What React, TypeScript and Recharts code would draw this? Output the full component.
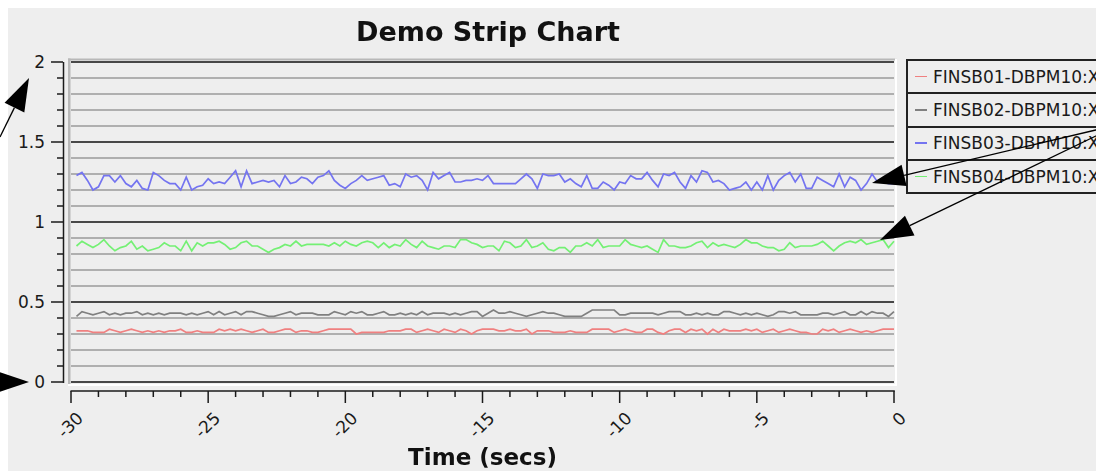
import React from "react";
import { LineChart, Line, XAxis, YAxis, ReferenceLine, Legend } from "recharts";

// one sample every 0.2 s, the newest sample at t = 0
const sampleTimes = Array.from({ length: 150 }, (_, i) => Math.round((-29.8 + 0.2 * i) * 10) / 10);

const seriesNames = ["FINSB01-DBPM10:X", "FINSB02-DBPM10:X", "FINSB03-DBPM10:X", "FINSB04-DBPM10:X"];
const seriesColors = ["#f08080", "#808080", "#7474f0", "#74f074"];

const finsb01 = [
  0.32, 0.32, 0.32, 0.31, 0.31, 0.31, 0.33, 0.32, 0.31, 0.32, 0.33, 0.32, 0.31, 0.32, 0.31, 0.32, 0.31, 0.32, 0.32, 0.33,
  0.31, 0.31, 0.32, 0.31, 0.31, 0.31, 0.33, 0.32, 0.33, 0.32, 0.33, 0.32, 0.31, 0.32, 0.33, 0.31, 0.31,
  0.32, 0.33, 0.33, 0.31, 0.32, 0.32, 0.31, 0.31, 0.32, 0.33, 0.33, 0.33, 0.33, 0.33, 0.3, 0.31, 0.31, 0.31, 0.31, 0.31,
  0.32, 0.32, 0.32, 0.33, 0.33, 0.31, 0.32, 0.33, 0.32, 0.31, 0.33, 0.32, 0.31, 0.33, 0.32, 0.3, 0.32,
  0.33, 0.33, 0.33, 0.32, 0.32, 0.33, 0.32, 0.32, 0.33, 0.3, 0.32, 0.32, 0.32, 0.31, 0.31, 0.31, 0.32, 0.31, 0.31, 0.31,
  0.33, 0.33, 0.33, 0.33, 0.31, 0.32, 0.33, 0.32, 0.31, 0.31, 0.33, 0.33, 0.31, 0.3, 0.32, 0.33, 0.33,
  0.31, 0.33, 0.32, 0.33, 0.3, 0.33, 0.31, 0.33, 0.32, 0.32, 0.32, 0.33, 0.32, 0.33, 0.31, 0.32, 0.33, 0.31, 0.32, 0.33,
  0.32, 0.31, 0.31, 0.3, 0.3, 0.33, 0.32, 0.33, 0.31, 0.32, 0.33, 0.32, 0.31, 0.32, 0.31, 0.32, 0.33, 0.33, 0.33,
];

const finsb02 = [
  0.41, 0.44, 0.43, 0.42, 0.43, 0.44, 0.42, 0.43, 0.42, 0.43, 0.43, 0.44, 0.42, 0.43, 0.42, 0.43, 0.42, 0.43, 0.43, 0.43,
  0.42, 0.43, 0.42, 0.43, 0.44, 0.42, 0.44, 0.42, 0.43, 0.44, 0.42, 0.44, 0.44, 0.43, 0.42, 0.41, 0.41,
  0.42, 0.43, 0.44, 0.42, 0.43, 0.43, 0.43, 0.42, 0.42, 0.42, 0.44, 0.43, 0.42, 0.44, 0.43, 0.44, 0.42, 0.42, 0.43, 0.44,
  0.42, 0.42, 0.43, 0.42, 0.43, 0.42, 0.44, 0.42, 0.43, 0.43, 0.43, 0.42, 0.43, 0.42, 0.43, 0.44, 0.44,
  0.41, 0.43, 0.45, 0.43, 0.43, 0.44, 0.43, 0.42, 0.41, 0.42, 0.43, 0.44, 0.43, 0.43, 0.42, 0.41, 0.41, 0.41, 0.41, 0.43,
  0.45, 0.45, 0.45, 0.45, 0.45, 0.42, 0.42, 0.43, 0.43, 0.43, 0.43, 0.43, 0.42, 0.43, 0.44, 0.44, 0.44,
  0.42, 0.42, 0.43, 0.42, 0.43, 0.42, 0.42, 0.44, 0.44, 0.43, 0.42, 0.43, 0.42, 0.43, 0.42, 0.41, 0.42, 0.44, 0.44, 0.43,
  0.44, 0.42, 0.42, 0.42, 0.42, 0.43, 0.43, 0.42, 0.43, 0.44, 0.42, 0.42, 0.44, 0.42, 0.44, 0.43, 0.43, 0.41, 0.44,
];

const finsb03 = [
  1.29, 1.31, 1.26, 1.2, 1.22, 1.29, 1.29, 1.25, 1.29, 1.24, 1.22, 1.26, 1.21, 1.2, 1.31, 1.29, 1.26, 1.24, 1.24, 1.2,
  1.28, 1.2, 1.22, 1.23, 1.27, 1.24, 1.25, 1.24, 1.28, 1.32, 1.22, 1.32, 1.24, 1.25, 1.26, 1.25, 1.26,
  1.22, 1.29, 1.24, 1.25, 1.28, 1.27, 1.24, 1.28, 1.29, 1.32, 1.26, 1.23, 1.21, 1.24, 1.26, 1.29, 1.26, 1.27, 1.28, 1.29,
  1.23, 1.24, 1.22, 1.3, 1.28, 1.29, 1.26, 1.2, 1.31, 1.27, 1.29, 1.31, 1.25, 1.25, 1.26, 1.26, 1.27,
  1.26, 1.29, 1.24, 1.24, 1.24, 1.24, 1.24, 1.27, 1.3, 1.27, 1.21, 1.3, 1.29, 1.29, 1.3, 1.25, 1.27, 1.24, 1.22, 1.29,
  1.21, 1.21, 1.25, 1.23, 1.2, 1.25, 1.24, 1.29, 1.27, 1.27, 1.31, 1.26, 1.22, 1.3, 1.29, 1.31, 1.25,
  1.21, 1.29, 1.25, 1.32, 1.31, 1.25, 1.26, 1.24, 1.2, 1.21, 1.22, 1.25, 1.2, 1.25, 1.2, 1.29, 1.2, 1.26, 1.29, 1.31,
  1.25, 1.3, 1.21, 1.21, 1.28, 1.26, 1.24, 1.22, 1.3, 1.22, 1.28, 1.26, 1.2, 1.24, 1.3, 1.25, 1.25, 1.24, 1.24,
];

const finsb04 = [
  0.85, 0.88, 0.86, 0.84, 0.86, 0.89, 0.85, 0.82, 0.84, 0.85, 0.88, 0.83, 0.85, 0.82, 0.83, 0.84, 0.87, 0.85, 0.85, 0.82,
  0.88, 0.82, 0.87, 0.85, 0.87, 0.87, 0.88, 0.86, 0.83, 0.84, 0.87, 0.88, 0.85, 0.85, 0.83, 0.81, 0.83,
  0.84, 0.86, 0.85, 0.88, 0.85, 0.86, 0.86, 0.86, 0.86, 0.85, 0.87, 0.85, 0.88, 0.86, 0.85, 0.87, 0.88, 0.87, 0.84, 0.87,
  0.84, 0.86, 0.85, 0.89, 0.86, 0.84, 0.88, 0.85, 0.84, 0.83, 0.85, 0.85, 0.84, 0.89, 0.89, 0.87, 0.86,
  0.84, 0.85, 0.85, 0.82, 0.88, 0.87, 0.84, 0.85, 0.89, 0.84, 0.85, 0.87, 0.83, 0.82, 0.84, 0.84, 0.81, 0.85, 0.85, 0.87,
  0.85, 0.89, 0.84, 0.85, 0.85, 0.85, 0.89, 0.86, 0.85, 0.84, 0.85, 0.83, 0.81, 0.89, 0.85, 0.85, 0.84,
  0.84, 0.85, 0.87, 0.88, 0.84, 0.87, 0.85, 0.86, 0.85, 0.84, 0.86, 0.89, 0.87, 0.87, 0.85, 0.84, 0.84, 0.82, 0.83, 0.87,
  0.84, 0.85, 0.85, 0.85, 0.86, 0.88, 0.85, 0.82, 0.85, 0.87, 0.88, 0.87, 0.89, 0.86, 0.87, 0.88, 0.89, 0.84, 0.88,
];

const xTicks = [-30, -29, -28, -27, -26, -25, -24, -23, -22, -21, -20, -19, -18, -17, -16, -15, -14, -13, -12, -11, -10, -9, -8, -7, -6, -5, -4, -3, -2, -1, 0];
const xMajorTicks = [-30, -25, -20, -15, -10, -5, 0];
const yTicks = [0, 0.1, 0.2, 0.3, 0.4, 0.5, 0.6, 0.7, 0.8, 0.9, 1, 1.1, 1.2, 1.3, 1.4, 1.5, 1.6, 1.7, 1.8, 1.9, 2];
const yMajorTicks = [0, 0.5, 1, 1.5, 2];

const rows = sampleTimes.map((t, i) => ({
  t,
  s1: finsb01[i],
  s2: finsb02[i],
  s3: finsb03[i],
  s4: finsb04[i],
}));

const font = "'DejaVu Sans', sans-serif";

const YTick = (props: any) => {
  const { x, y, payload } = props;
  const major = yMajorTicks.includes(payload.value);
  const ax = x - 8;
  return (
    <g>
      <line x1={ax} x2={ax - (major ? 12 : 6)} y1={y} y2={y} stroke="#1a1a1a" strokeWidth={1.5} />
      {major && (
        <text x={ax - 18} y={y} textAnchor="end" dominantBaseline="central" fontSize={17} fontFamily={font} fill="#1a1a1a">
          {payload.value}
        </text>
      )}
    </g>
  );
};

const XTick = (props: any) => {
  const { x, y, payload } = props;
  const major = xMajorTicks.includes(payload.value);
  const ay = y + 9;
  const lx = x + 9;
  const ly = y + 33;
  return (
    <g>
      <line x1={x} x2={x} y1={ay} y2={ay + (major ? 12 : 6)} stroke="#1a1a1a" strokeWidth={1.5} />
      {major && (
        <text
          x={lx}
          y={ly}
          transform={`rotate(-45 ${lx} ${ly})`}
          textAnchor="end"
          dominantBaseline="central"
          fontSize={17}
          fontFamily={font}
          fill="#1a1a1a"
        >
          {payload.value}
        </text>
      )}
    </g>
  );
};

const LegendBox = (props: any) => {
  const items = props.payload || [];
  return (
    <div style={{ borderTop: "2px solid #222", borderLeft: "2px solid #222", width: 260, fontFamily: font, fontSize: 17 }}>
      {items.map((it: any) => (
        <div
          key={it.value}
          style={{ height: 31.3, borderBottom: "2px solid #222", display: "flex", alignItems: "center", whiteSpace: "nowrap" }}
        >
          <span style={{ display: "inline-block", width: 12, height: 1.5, background: it.color, marginLeft: 7, marginRight: 6 }} />
          <span style={{ color: "#1a1a1a" }}>{it.value}</span>
        </div>
      ))}
    </div>
  );
};

const Arrow = ({ from, to }: { from: number[]; to: number[] }) => {
  const dx = from[0] - to[0];
  const dy = from[1] - to[1];
  const len = Math.hypot(dx, dy);
  const ux = dx / len;
  const uy = dy / len;
  const bx = to[0] + ux * 33;
  const by = to[1] + uy * 33;
  const px = -uy * 11;
  const py = ux * 11;
  return (
    <g>
      <line x1={from[0]} y1={from[1]} x2={bx} y2={by} stroke="#000" strokeWidth={1.3} />
      <polygon points={`${to[0]},${to[1]} ${bx + px},${by + py} ${bx - px},${by - py}`} fill="#000" />
    </g>
  );
};

export default function App() {
  return (
    <div style={{ width: 1080, height: 455 }}>
      <div
        style={{ position: "fixed", left: 8, top: 8, width: 1088, height: 463, overflow: "hidden", background: "#eeeeee" }}
      >
        <LineChart width={1088} height={463} data={rows} margin={{ top: 54, right: 202, bottom: 9, left: 8 }}>
          <XAxis
            dataKey="t"
            type="number"
            domain={[-30, 0]}
            ticks={xTicks}
            interval={0}
            height={80}
            axisLine={false}
            tickLine={false}
            tickSize={0}
            tickMargin={0}
            tick={<XTick />}
          />
          <YAxis
            type="number"
            domain={[0, 2]}
            ticks={yTicks}
            interval={0}
            width={55}
            axisLine={false}
            tickLine={false}
            tickSize={0}
            tickMargin={0}
            tick={<YTick />}
          />
          {yTicks.map((v) => (
            <ReferenceLine
              key={v}
              y={v}
              stroke={yMajorTicks.includes(v) ? "#111111" : "#9a9a9a"}
              strokeWidth={yMajorTicks.includes(v) ? 1.4 : 1.3}
            />
          ))}
          <Legend
            layout="vertical"
            align="center"
            verticalAlign="middle"
            wrapperStyle={{ left: 898, top: 51, width: 260 }}
            content={<LegendBox />}
          />
          <Line type="linear" dataKey="s1" name={seriesNames[0]} stroke={seriesColors[0]} strokeWidth={1.7} dot={false} isAnimationActive={false} />
          <Line type="linear" dataKey="s2" name={seriesNames[1]} stroke={seriesColors[1]} strokeWidth={1.7} dot={false} isAnimationActive={false} />
          <Line type="linear" dataKey="s3" name={seriesNames[2]} stroke={seriesColors[2]} strokeWidth={1.7} dot={false} isAnimationActive={false} />
          <Line type="linear" dataKey="s4" name={seriesNames[3]} stroke={seriesColors[3]} strokeWidth={1.7} dot={false} isAnimationActive={false} />
        </LineChart>
      </div>
      <svg
        width={1096}
        height={471}
        style={{ position: "fixed", left: 0, top: 0, pointerEvents: "none", fontFamily: font }}
      >
        {/* plot frame */}
        <rect x={68} y={58.5} width={829} height={2} fill="#b8b8b8" />
        <rect x={68} y={58.5} width={2.5} height={327} fill="#b8b8b8" />
        <rect x={895} y={58.5} width={2} height={327.5} fill="#ffffff" />
        <rect x={68} y={384} width={829} height={2} fill="#ffffff" />
        {/* axis lines */}
        <line x1={63.5} x2={63.5} y1={62} y2={383} stroke="#1a1a1a" strokeWidth={1.5} />
        <line x1={70.5} x2={894.8} y1={391} y2={391} stroke="#1a1a1a" strokeWidth={1.5} />
        <text x={488} y={40.5} textAnchor="middle" fontSize={27} fontWeight="bold" fill="#111">
          Demo Strip Chart
        </text>
        <text x={482.5} y={465} textAnchor="middle" fontSize={23} fontWeight="bold" fill="#111">
          Time (secs)
        </text>
        <Arrow from={[0, 137]} to={[29, 78]} />
        <Arrow from={[-40, 382]} to={[29, 382]} />
        <Arrow from={[1100, 129]} to={[872, 183]} />
        <Arrow from={[1100, 134]} to={[880, 240]} />
      </svg>
    </div>
  );
}
